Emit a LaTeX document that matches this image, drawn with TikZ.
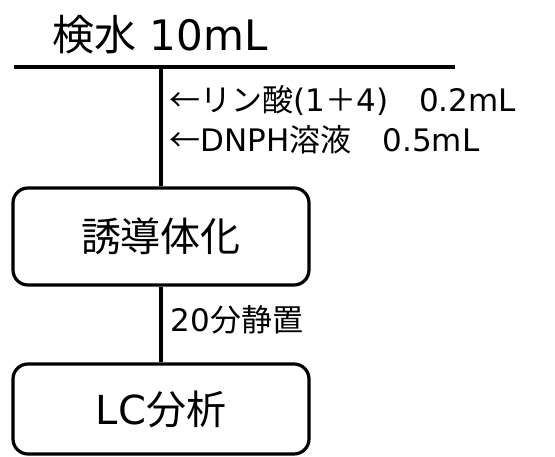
\documentclass[tikz,border=0pt]{standalone}
\usepackage{fontspec}
\setmainfont{DejaVu Sans}
\newfontfamily\jp{Noto Sans CJK JP}
\begin{document}
\begin{tikzpicture}[x=1pt,y=-1pt,
  line width=3.2pt,
  procbox/.style={draw, rounded corners=15pt, minimum width=296pt, inner sep=0pt, font=\fontsize{40}{44}\selectfont},
  biglabel/.style={font=\fontsize{42}{46}\selectfont, inner sep=0pt},
  smalllabel/.style={font=\fontsize{31}{34}\selectfont, inner sep=0pt, anchor=west}]
\useasboundingbox (0,0) rectangle (555,456);
\node[biglabel] (title) at (160,35) {{\jp 検水} 10mL};
\coordinate (hl) at (14,67);
\coordinate (hr) at (455,67);
\coordinate (top) at (161,67);
\draw (hl) -- (hr);
\node[procbox, minimum height=97pt] (b1) at (161,236.5) {\jp 誘導体化};
\node[procbox, minimum height=90pt] (b2) at (161,409) {LC{\jp 分析}};
\draw (top) -- (b1.north);
\draw (b1.south) -- (b2.north);
\node[smalllabel] (l1) at (168,100) {{\jp ←リン酸}(1{\jp ＋}4){\jp 　}0.2mL};
\node[smalllabel] (l2) at (168,140) {{\jp ←}DNPH{\jp 溶液　}0.5mL};
\node[smalllabel] (l3) at (169,320) {20{\jp 分静置}};
\end{tikzpicture}
\end{document}
